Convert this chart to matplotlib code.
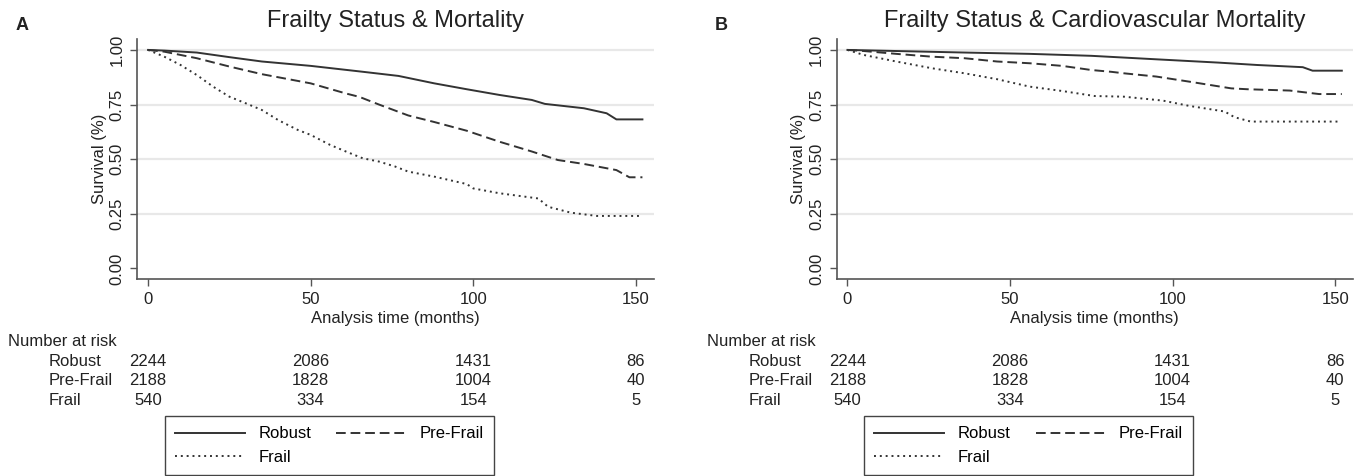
import matplotlib
matplotlib.use("Agg")
import matplotlib.pyplot as plt
from matplotlib.lines import Line2D
from matplotlib.transforms import blended_transform_factory

plt.rcParams["font.family"] = ["Liberation Sans", "DejaVu Sans"]

# ---- data ----
groups = ["Robust", "Pre-Frail", "Frail"]
risk_times = [0, 50, 100, 150]
risk_robust = [2244, 2086, 1431, 86]
risk_prefrail = [2188, 1828, 1004, 40]
risk_frail = [540, 334, 154, 5]

# panel A: all-cause mortality
a_robust_t = [0, 5, 15, 25, 35, 50, 66, 77, 88, 98, 108, 118, 122, 134, 141, 144, 152]
a_robust_s = [1.0, 0.997, 0.988, 0.967, 0.947, 0.927, 0.90, 0.881, 0.847, 0.82, 0.794,
              0.771, 0.753, 0.733, 0.71, 0.682, 0.682]
a_pre_t = [0, 5, 15, 25, 35, 50, 61, 65, 71, 80, 88, 98, 108, 118, 126, 134, 144, 148, 152]
a_pre_s = [1.0, 0.992, 0.962, 0.924, 0.889, 0.847, 0.80, 0.785, 0.75, 0.70, 0.67, 0.63,
           0.58, 0.535, 0.496, 0.478, 0.45, 0.417, 0.417]
a_frail_t = [0, 5, 10, 15, 20, 25, 30, 35, 40, 46, 50, 56, 61, 66, 71, 76, 80, 88, 98,
             100, 108, 120, 123, 130, 138, 152]
a_frail_s = [1.0, 0.969, 0.931, 0.885, 0.832, 0.786, 0.756, 0.725, 0.679, 0.634, 0.611,
             0.565, 0.534, 0.504, 0.489, 0.466, 0.443, 0.42, 0.386, 0.366, 0.344, 0.32,
             0.282, 0.255, 0.24, 0.24]

# panel B: cardiovascular mortality
b_robust_t = [0, 15, 36, 56, 75, 95, 114, 126, 140, 143, 152]
b_robust_s = [1.0, 0.995, 0.988, 0.982, 0.973, 0.957, 0.942, 0.931, 0.921, 0.905, 0.905]
b_pre_t = [0, 5, 15, 26, 36, 46, 56, 66, 75, 81, 85, 95, 105, 118, 123, 136, 145, 152]
b_pre_s = [1.0, 0.995, 0.982, 0.969, 0.962, 0.947, 0.939, 0.927, 0.908, 0.90, 0.893,
           0.878, 0.855, 0.824, 0.82, 0.814, 0.798, 0.798]
b_frail_t = [0, 5, 10, 15, 26, 36, 46, 56, 66, 76, 85, 97, 105, 116, 119, 124, 151]
b_frail_s = [1.0, 0.977, 0.962, 0.947, 0.916, 0.893, 0.866, 0.832, 0.812, 0.789, 0.786,
             0.768, 0.744, 0.718, 0.692, 0.672, 0.672]

panels = [
    ("A", "Frailty Status & Mortality",
     [(a_robust_t, a_robust_s), (a_pre_t, a_pre_s), (a_frail_t, a_frail_s)]),
    ("B", "Frailty Status & Cardiovascular Mortality",
     [(b_robust_t, b_robust_s), (b_pre_t, b_pre_s), (b_frail_t, b_frail_s)]),
]

W, H = 1366, 476
line_col = "#333333"
styles = ["-", (0, (5, 2.5)), (0, (1, 2))]
fs = 12

fig = plt.figure(figsize=(W / 100, H / 100), dpi=100)

for i, (letter, title, curves) in enumerate(panels):
    left_px = 137.3 + i * 699.4
    ax = fig.add_axes([left_px / W, 1 - 279.3 / H, 516.5 / W, (279.3 - 39) / H])
    for (t, s), ls in zip(curves, styles):
        ax.plot(t, s, color=line_col, lw=1.4, linestyle=ls)
    ax.set_xlim(-3.3, 155.5)
    ax.set_ylim(-0.05, 1.05)
    ax.set_xticks(risk_times)
    ax.set_yticks([0, 0.25, 0.5, 0.75, 1.0])
    ax.set_yticklabels(["0.00", "0.25", "0.50", "0.75", "1.00"], rotation=90, va="center")
    for y in [0.25, 0.5, 0.75, 1.0]:
        ax.axhline(y, color="#e8e8e8", lw=1.6, zorder=0)
    for sp in ["top", "right"]:
        ax.spines[sp].set_visible(False)
    for sp in ["left", "bottom"]:
        ax.spines[sp].set_color("#555555")
        ax.spines[sp].set_linewidth(1.2)
    ax.tick_params(direction="out", length=5, width=1, color="#555555",
                   labelsize=fs, labelcolor="#222222", pad=4)
    ax.set_ylabel("Survival (%)", fontsize=fs, color="#222222", labelpad=2)
    ax.set_title(title, fontsize=17, color="#222222", pad=9)

    fig.text((left_px - 122) / W, 1 - 26 / H, letter, fontsize=13, fontweight="bold",
             ha="left", va="center", color="#222222")

    fig.text((left_px + 258) / W, 1 - 318 / H, "Analysis time (months)", fontsize=fs,
             ha="center", va="center", color="#222222")

    # number-at-risk table
    trans = blended_transform_factory(ax.transData, fig.transFigure)
    fig.text((left_px - 129.3) / W, 1 - 341.7 / H, "Number at risk", fontsize=fs,
             ha="left", va="center", color="#222222")
    rows = [risk_robust, risk_prefrail, risk_frail]
    row_y = [361, 380.7, 400.7]
    for name, vals, yp in zip(groups, rows, row_y):
        fig.text((left_px - 88.3) / W, 1 - yp / H, name, fontsize=fs,
                 ha="left", va="center", color="#222222")
        for tx, v in zip(risk_times, vals):
            ax.text(tx, 1 - yp / H, str(v), transform=trans, fontsize=fs,
                    ha="center", va="center", color="#222222")

    handles = [Line2D([], [], color=line_col, lw=1.4, linestyle=ls) for ls in styles]
    leg = fig.legend([handles[0], handles[2], handles[1]],
                     ["Robust", "Frail", "Pre-Frail"], ncol=2, loc="center",
                     bbox_to_anchor=((left_px + 192) / W, 1 - 445.6 / H),
                     fontsize=fs, frameon=True, fancybox=False, framealpha=1,
                     edgecolor="#444444", handlelength=4.2, columnspacing=1.5,
                     labelspacing=0.5, handletextpad=0.8, borderpad=0.6)
    leg.get_frame().set_linewidth(1.0)

fig.savefig("out.png", dpi=100, facecolor="white")
